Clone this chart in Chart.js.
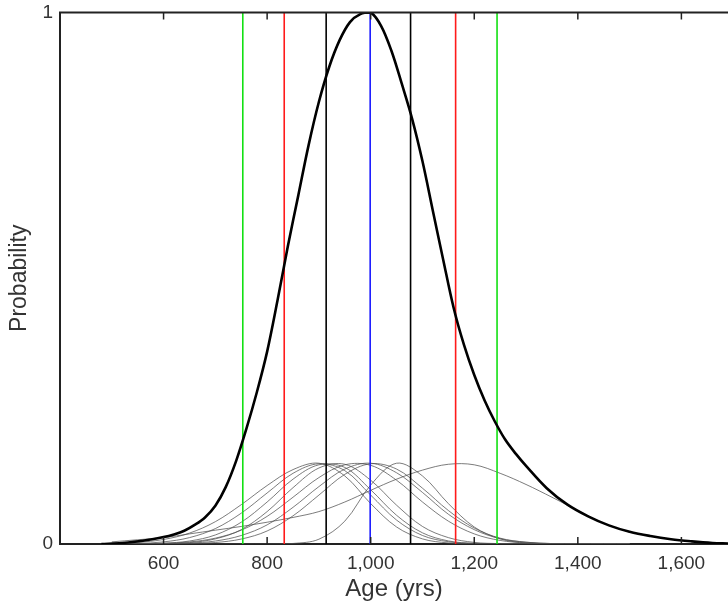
<!DOCTYPE html>
<html>
<head>
<meta charset="utf-8">
<title>Probability vs Age</title>
<script src="https://cdn.jsdelivr.net/npm/chart.js@4.4.1/dist/chart.umd.min.js"></script>
<style>
  html, body { margin: 0; padding: 0; background: #fff; overflow: hidden; }
  canvas { display: block; }
</style>
</head>
<body>
<canvas id="ageChart" width="728" height="606"></canvas>
<script>
// ------------------------------------------------------------------ //
// Datos

// curva combinada (gruesa, negra)
const mainAges = [480, 520, 560, 600, 620, 640, 660, 680, 700, 720, 740, 760, 780, 800, 820, 840, 860, 880, 900, 920, 940, 960, 980, 1000, 1020, 1040, 1060, 1080, 1100, 1120, 1140, 1160, 1180, 1200, 1220, 1240, 1260, 1280, 1300, 1340, 1380, 1420, 1460, 1500, 1540, 1580, 1620, 1660, 1690];
const mainProb = [0.0, 0.002, 0.006, 0.013, 0.018, 0.025, 0.036, 0.05, 0.072, 0.107, 0.156, 0.217, 0.285, 0.362, 0.458, 0.56, 0.655, 0.75, 0.832, 0.898, 0.948, 0.982, 0.997, 1.0, 0.975, 0.928, 0.866, 0.8, 0.72, 0.627, 0.535, 0.445, 0.375, 0.318, 0.27, 0.23, 0.196, 0.17, 0.147, 0.105, 0.074, 0.052, 0.035, 0.023, 0.015, 0.009, 0.005, 0.002, 0.001];

// curvas individuales (finas, grises)
const thinAges = [500, 550, 600, 650, 700, 750, 800, 850, 900, 950, 1000, 1050, 1100, 1150, 1200, 1250, 1300, 1350, 1400, 1450, 1500];
const sample1 = [0.001, 0.003, 0.0085, 0.0205, 0.042, 0.074, 0.110, 0.140, 0.152, 0.128, 0.076, 0.032, 0.0096, 0.002, 0.0003, 0, 0, 0, 0, 0, 0];
const sample2 = [0.0003, 0.001, 0.004, 0.012, 0.029, 0.058, 0.096, 0.133, 0.151, 0.138, 0.092, 0.045, 0.016, 0.0043, 0.0009, 0, 0, 0, 0, 0, 0];
const sample3 = [0, 0.0003, 0.0015, 0.0056, 0.017, 0.041, 0.079, 0.122, 0.149, 0.144, 0.102, 0.054, 0.021, 0.0058, 0.0012, 0, 0, 0, 0, 0, 0];
const sample4 = [0, 0.0001, 0.0006, 0.0026, 0.0096, 0.027, 0.061, 0.106, 0.143, 0.150, 0.120, 0.073, 0.033, 0.012, 0.003, 0.0007, 0, 0, 0, 0, 0];
const sample5 = [0, 0.0003, 0.0012, 0.0039, 0.011, 0.026, 0.052, 0.088, 0.125, 0.149, 0.148, 0.120, 0.079, 0.043, 0.019, 0.0067, 0.0019, 0.0005, 0, 0, 0];
const sample6 = [0, 0.0001, 0.0004, 0.0017, 0.0056, 0.016, 0.036, 0.069, 0.108, 0.141, 0.152, 0.134, 0.097, 0.056, 0.027, 0.010, 0.0033, 0.0008, 0.0001, 0, 0];
const sample7 = [0, 0, 0.0001, 0.0007, 0.0028, 0.0093, 0.0245, 0.053, 0.092, 0.131, 0.151, 0.141, 0.105, 0.063, 0.030, 0.011, 0.0034, 0.0008, 0.0001, 0, 0];
const sample8 = [0, 0, 0, 0, 0, 0, 0, 0.001, 0.009, 0.043, 0.111, 0.152, 0.128, 0.076, 0.032, 0.0096, 0.002, 0.0003, 0, 0, 0];
const sample9 = [0.004, 0.008, 0.012, 0.019, 0.026, 0.033, 0.041, 0.05, 0.061, 0.079, 0.101, 0.122, 0.139, 0.15, 0.149, 0.133, 0.112, 0.088, 0.063, 0.039, 0.022];
const thinSamples = [sample1, sample2, sample3, sample4, sample5, sample6, sample7, sample8, sample9];

// lineas verticales (rangos)
const greenAges = [753, 1244];
const redAges = [833, 1164];
const blackAges = [914, 1077];
const blueAges = [999];

// ejes
const ageMin = 400;
const ageMax = 1690;
const ageTicks = [600, 800, 1000, 1200, 1400, 1600];
const probTicks = [0, 1];

// ------------------------------------------------------------------ //

const toPoints = (xs, ys) => xs.map((x, i) => ({ x: x, y: ys[i] }));

const verticalLine = (age, color) => ({
    data: [{ x: age, y: 0 }, { x: age, y: 1 }],
    borderColor: color,
    borderWidth: 1.6,
    pointRadius: 0
});

const datasets = [];

// el primero se dibuja encima
datasets.push({
    data: toPoints(mainAges, mainProb),
    borderColor: '#000',
    borderWidth: 2.6,
    pointRadius: 0,
    tension: 0.35
});

greenAges.forEach(a => datasets.push(verticalLine(a, '#12e012')));
redAges.forEach(a => datasets.push(verticalLine(a, '#ff1a1a')));
blackAges.forEach(a => datasets.push(verticalLine(a, '#000')));
blueAges.forEach(a => datasets.push(verticalLine(a, '#1a1aff')));

thinSamples.forEach(s => {
    datasets.push({
        data: toPoints(thinAges, s),
        borderColor: 'rgba(80, 80, 80, 0.75)',
        borderWidth: 1,
        pointRadius: 0,
        tension: 0.35
    });
});

// marcas hacia dentro y borde superior
const frameTicks = {
    id: 'frameTicks',
    afterDatasetsDraw(chart) {
        const { ctx, chartArea, scales } = chart;
        ctx.save();
        ctx.strokeStyle = '#222';
        ctx.lineWidth = 2;
        ctx.beginPath();
        ctx.moveTo(chartArea.left - 1, chartArea.top);
        ctx.lineTo(chartArea.right, chartArea.top);
        ctx.stroke();
        ctx.lineWidth = 1.5;
        ageTicks.forEach(v => {
            const px = scales.x.getPixelForValue(v);
            ctx.beginPath();
            ctx.moveTo(px, chartArea.bottom);
            ctx.lineTo(px, chartArea.bottom - 7);
            ctx.moveTo(px, chartArea.top);
            ctx.lineTo(px, chartArea.top + 7);
            ctx.stroke();
        });
        ctx.restore();
    }
};

Chart.defaults.font.family = '"Liberation Sans", Arial, sans-serif';
Chart.defaults.color = '#333';

new Chart(document.getElementById('ageChart'), {
    type: 'line',
    data: { datasets: datasets },
    options: {
        responsive: false,
        animation: false,
        events: [],
        layout: { padding: 0 },
        plugins: {
            legend: { display: false },
            tooltip: { enabled: false }
        },
        scales: {
            x: {
                type: 'linear',
                min: ageMin,
                max: ageMax,
                grid: { display: false, drawTicks: false },
                border: { display: true, color: '#222', width: 2 },
                afterBuildTicks: (scale) => { scale.ticks = ageTicks.map(v => ({ value: v })); },
                afterFit: (scale) => { scale.height = 62; },
                ticks: {
                    padding: 8,
                    font: { size: 19 },
                    callback: (v) => v.toLocaleString('en-US')
                },
                title: {
                    display: true,
                    text: 'Age (yrs)',
                    font: { size: 24 },
                    padding: { top: 0, bottom: 2 }
                }
            },
            y: {
                min: 0,
                max: 1,
                grid: { display: false, drawTicks: false },
                border: { display: true, color: '#222', width: 2 },
                afterBuildTicks: (scale) => { scale.ticks = probTicks.map(v => ({ value: v })); },
                afterFit: (scale) => { scale.width = 60; scale.paddingTop = 12.5; },
                ticks: {
                    padding: 7,
                    font: { size: 19 },
                    callback: (v) => String(v)
                },
                title: {
                    display: true,
                    text: 'Probability',
                    font: { size: 23 },
                    padding: { top: 6, bottom: 4 }
                }
            }
        }
    },
    plugins: [frameTicks]
});
</script>
</body>
</html>
